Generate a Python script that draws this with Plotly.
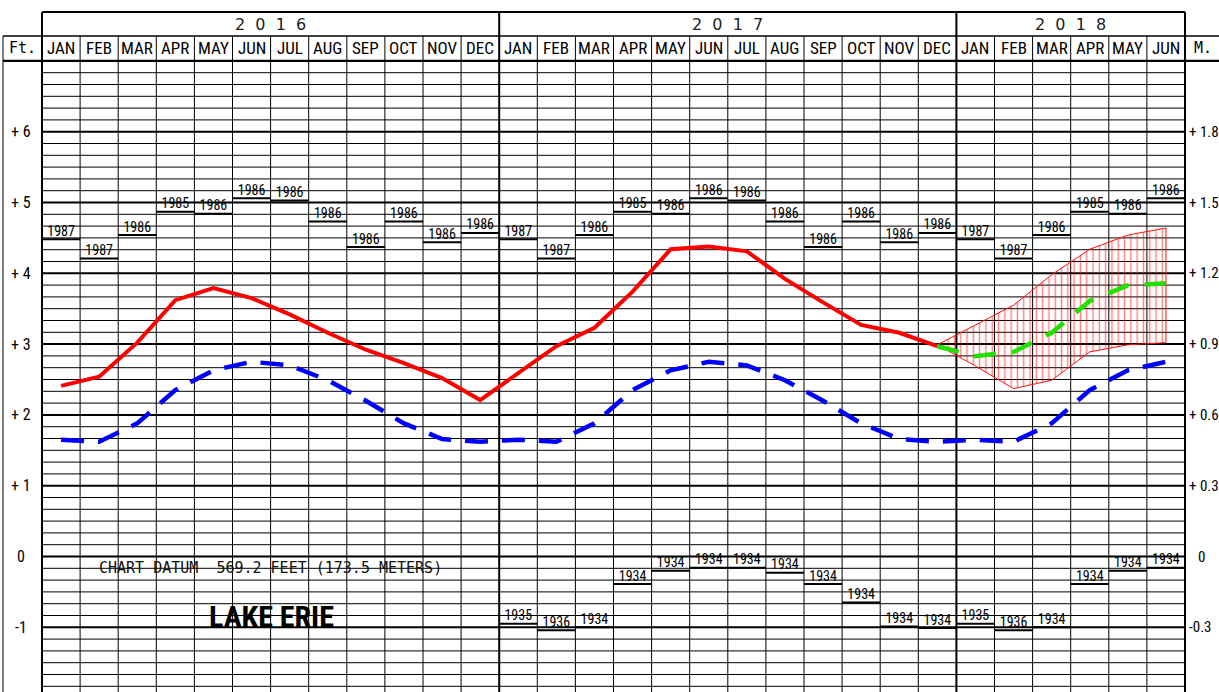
import plotly.graph_objects as go

# ---------------- data ----------------
MONTHS = ["JAN", "FEB", "MAR", "APR", "MAY", "JUN", "JUL", "AUG", "SEP", "OCT", "NOV", "DEC"]
YEARS = ["2016", "2017", "2018"]
N_MONTHS = 30  # Jan 2016 .. Jun 2018

# recorded monthly mean levels (ft above chart datum), Jan 2016 .. Dec 2017
recorded_ft = [2.41, 2.54, 3.02, 3.62, 3.79, 3.65, 3.42, 3.16, 2.92, 2.73, 2.52, 2.21,
               2.59, 2.97, 3.23, 3.74, 4.34, 4.38, 4.31, 3.92, 3.59, 3.27, 3.16, 2.97]
# long-term average monthly levels (Jan..Dec)
lta_ft = [1.65, 1.62, 1.88, 2.35, 2.63, 2.75, 2.70, 2.49, 2.20, 1.88, 1.66, 1.62]
# forecast Dec 2017 .. Jun 2018
forecast_ft = [2.97, 2.83, 2.89, 3.16, 3.61, 3.83, 3.86]
forecast_hi = [2.99, 3.27, 3.55, 3.98, 4.34, 4.54, 4.64]
forecast_lo = [2.99, 2.69, 2.37, 2.49, 2.89, 2.99, 3.02]
# record highs / lows per calendar month
rec_high_ft = [4.48, 4.21, 4.54, 4.87, 4.84, 5.06, 5.03, 4.73, 4.37, 4.73, 4.44, 4.57]
rec_high_yr = ["1987", "1987", "1986", "1985", "1986", "1986", "1986", "1986", "1986", "1986", "1986", "1986"]
rec_low_ft = [-0.95, -1.04, -1.00, -0.39, -0.20, -0.16, -0.16, -0.23, -0.39, -0.65, -0.99, -1.01]
rec_low_yr = ["1935", "1936", "1934", "1934", "1934", "1934", "1934", "1934", "1934", "1934", "1934", "1934"]
REC_LOW_FIRST = 12  # record lows shown from Jan 2017

ft_ticks = [6, 5, 4, 3, 2, 1, 0, -1]
ft_labels = ["+ 6", "+ 5", "+ 4", "+ 3", "+ 2", "+ 1", "0", "-1"]
m_labels = ["+ 1.8", "+ 1.5", "+ 1.2", "+ 0.9", "+ 0.6", "+ 0.3", "0", "-0.3"]

# ---------------- geometry helpers (pixel -> data) ----------------
W, H = 1219, 692
XPX0, XK = 42.0, 38.1
YPX0, YK = 556.5, 70.8


def xd(px):
    return (px - XPX0) / XK


def yd(px):
    return (YPX0 - px) / YK


NARROW = "Roboto Condensed, DejaVu Sans Condensed, Liberation Sans Narrow, Roboto, sans-serif"
WIDE = "DejaVu Sans, sans-serif"
MONO = "DejaVu Sans Mono, Liberation Mono, monospace"
NB = "\u00a0"

fig = go.Figure()
shapes = []


def hline(y, x0, x1, w):
    shapes.append(dict(type="line", xref="x", yref="y", x0=x0, x1=x1, y0=y, y1=y,
                       line=dict(color="black", width=w), layer="below"))


def vline(x, y0, y1, w):
    shapes.append(dict(type="line", xref="x", yref="y", x0=x, x1=x, y0=y0, y1=y1,
                       line=dict(color="black", width=w), layer="below"))


# horizontal grid every 2 inches (1/6 ft)
for k in range(-11, 42):
    hline(k / 6.0, 0, N_MONTHS, 2 if k % 6 == 0 else 1)
# header lines
hline(yd(12), 0, N_MONTHS, 2)
hline(yd(36), xd(3), xd(W), 1.5)
hline(7.0, xd(3), xd(W), 2.2)
# vertical lines
for i in range(N_MONTHS + 1):
    if i in (0, 12, 24, N_MONTHS):
        vline(i, yd(12), yd(H), 2)
    else:
        vline(i, yd(36), yd(H), 1)
vline(xd(3), yd(36), yd(H), 1)

annotations = []


def text(x, y, s, size, family, anchor="center", color="black"):
    annotations.append(dict(x=x, y=y, xref="x", yref="y", text=s, showarrow=False,
                            xanchor=anchor, yanchor="middle",
                            font=dict(size=size, family=family, color=color)))


# year headers
for j, yr in enumerate(YEARS):
    start = j * 12
    end = min(start + 12, N_MONTHS)
    text((start + end) / 2.0, yd(24), (NB * 2).join(list(yr)), 16, WIDE, color="#222")
# month headers
for i in range(N_MONTHS):
    text(i + 0.5, yd(48), MONTHS[i % 12], 17, NARROW)
text(xd(22), yd(48), "Ft.", 15, MONO)
text(xd(1203), yd(48), "M.", 15, MONO)
# axis labels
for v, lf, lm in zip(ft_ticks, ft_labels, m_labels):
    text(xd(21), v, lf, 16, NARROW)
    if lm[0] in "+-":
        text(xd(1187), v, lm, 15, NARROW, anchor="left")
    else:
        text(xd(1201), v, lm, 15, NARROW)
# chart notes
text(xd(270), yd(568), "CHART DATUM" + NB * 2 + "569.2 FEET (173.5 METERS)", 15, MONO, color="#111")
annotations.append(dict(x=xd(271), y=yd(616), xref="x", yref="y", text="<b>LAKE ERIE</b>",
                        showarrow=False, xanchor="center", yanchor="middle",
                        font=dict(size=30, family=NARROW, color="black")))

# ---------------- traces ----------------
mid = [i + 0.5 for i in range(N_MONTHS)]

# forecast range (hatched)
fc_x = mid[23:30]
fig.add_trace(go.Scatter(
    x=fc_x + fc_x[::-1], y=forecast_hi + forecast_lo[::-1], mode="lines",
    fill="toself", fillcolor="rgba(0,0,0,0)",
    fillpattern=dict(shape="|", fgcolor="#ff0000", bgcolor="rgba(0,0,0,0)", size=6.3, solidity=0.22),
    line=dict(color="#ff1010", width=1), hoverinfo="skip", showlegend=False))

# long-term average
lta_all = (lta_ft * 3)[:N_MONTHS]
fig.add_trace(go.Scatter(x=mid, y=lta_all, mode="lines",
                         line=dict(color="#0000ff", width=4.5, dash="23px,14px"),
                         showlegend=False))
# recorded
fig.add_trace(go.Scatter(x=mid[:len(recorded_ft)], y=recorded_ft, mode="lines",
                         line=dict(color="#ff0000", width=4), showlegend=False))
# forecast most probable
fig.add_trace(go.Scatter(x=fc_x, y=forecast_ft, mode="lines",
                         line=dict(color="#22e000", width=4.5, dash="22px,16px"),
                         showlegend=False))

# record highs & lows
hx, hy, lx, ly = [], [], [], []
htx, hty, htt, ltx, lty, ltt = [], [], [], [], [], []
for i in range(N_MONTHS):
    m = i % 12
    hx += [i, i + 1, None]
    hy += [rec_high_ft[m], rec_high_ft[m], None]
    htx.append(i + 0.5)
    hty.append(rec_high_ft[m])
    htt.append(rec_high_yr[m])
    if i >= REC_LOW_FIRST:
        lx += [i, i + 1, None]
        ly += [rec_low_ft[m], rec_low_ft[m], None]
        ltx.append(i + 0.5)
        lty.append(rec_low_ft[m])
        ltt.append(rec_low_yr[m])
for xs, ys in ((hx, hy), (lx, ly)):
    fig.add_trace(go.Scatter(x=xs, y=ys, mode="lines", line=dict(color="black", width=2),
                             showlegend=False, hoverinfo="skip"))
for xs, ys, ts in ((htx, hty, htt), (ltx, lty, ltt)):
    fig.add_trace(go.Scatter(x=xs, y=ys, mode="text", text=ts, textposition="top center",
                             textfont=dict(size=14, family=NARROW, color="black"),
                             showlegend=False, hoverinfo="skip"))

fig.update_layout(
    width=W, height=H, autosize=False,
    margin=dict(l=0, r=0, t=0, b=0, pad=0),
    paper_bgcolor="white", plot_bgcolor="white",
    xaxis=dict(range=[xd(0), xd(W)], visible=False, showgrid=False, zeroline=False, fixedrange=True),
    yaxis=dict(range=[yd(H), yd(0)], visible=False, showgrid=False, zeroline=False, fixedrange=True),
    shapes=shapes, annotations=annotations, showlegend=False,
)

fig.write_html("out.html", config={"displayModeBar": False},
               post_script="document.body.style.margin='0';document.body.style.overflow='hidden';")
